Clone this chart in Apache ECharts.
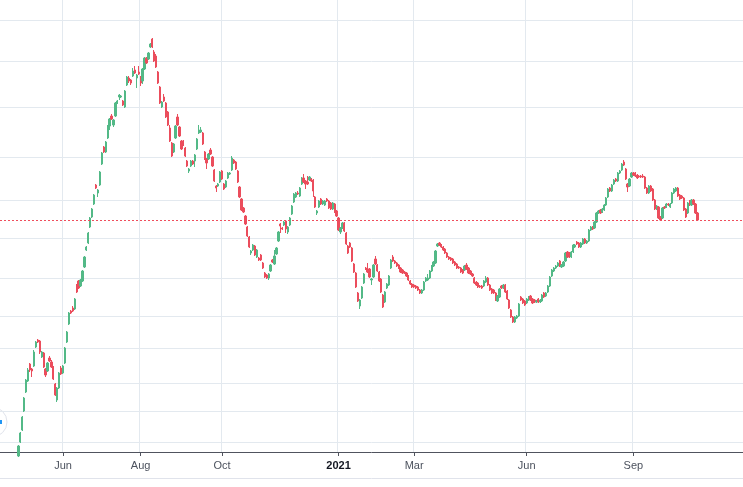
<!DOCTYPE html>
<html><head><meta charset="utf-8">
<script src="https://cdn.jsdelivr.net/npm/echarts@6/dist/echarts.min.js"></script>
<style>html,body{margin:0;padding:0;background:#fff}#c{width:743px;height:487px}</style>
</head><body><div id="c"></div>
<script>
// ---- data (arbitrary price units) ----
const barCount = 383;           // number of bar slots on the time scale
const firstBar = 9;             // slot of the first visible candle
const monthTicks = [[32,'Jun'],[72,'Aug'],[114,'Oct'],[174,'2021'],[213,'Mar'],[271,'Jun'],[326,'Sep']];
const priceGrid = [10,41,69,104,136,174,214,252,295,345,391,432];
const priceMin = 0, priceMax = 452;

// [open, close, low, high]
const rally2020 = [
[-4,6,-5,7],[10,19,9,20],[22,35,21,36],[41,54,40,55],[60,72,59,73],[71,82,70,84],[88,82,80,89],[83,81,75,84],
[86,100,85,102],[105,110,104,111],[112,110,109,113],[111,100,98,112],[95,100,94,101],[99,85,84,100],[83,77,75,84],
[81,89,80,90],[94,91,90,96],[90,85,84,92],[85,73,72,86],[68,57,56,69],[52,64,50,65],[64,79,63,80],[84,78,77,86],
[79,86,78,87],[89,104,88,105],[110,120,109,121],[128,139,127,140],[141,139,138,142],[144,141,140,146],[143,153,142,154],
[167,160,159,168],[171,164,163,172],[166,172,165,173],[171,181,170,182],[185,195,184,196],[202,205,201,206],
[209,219,208,220],[225,234,224,235],[235,243,234,244],[248,257,247,258],[267,264,263,268],[259,262,255,263]
];
const peak2020 = [
[267,280,266,281],[288,299,287,300],[305,300,299,306],[300,310,299,311],[314,326,313,327],[326,333,322,334],
[336,333,332,338],[327,332,325,333],[336,349,335,350],[349,351,348,352],[355,357,352,358],[355,356,354,357],
[351,347,346,352],[345,361,344,362],[367,375,366,376],[374,371,369,376],[372,369,367,373],[376,381,375,384],
[382,379,378,386],[374,377,364,378],[380,378,377,386],[375,369,366,376],[371,383,368,384],[383,394,382,395],
[394,389,388,395],[393,399,392,400],[405,408,404,409],[413,405,404,414],[400,391,390,402],[396,385,384,398],
[380,369,368,381],[365,349,348,366],[345,350,344,351],[355,351,350,358],[349,335,334,350],[340,327,326,341],
[324,311,310,327],[309,296,295,310],[300,308,299,309],[314,326,313,327],[335,327,326,338],[325,316,315,326],
[311,303,302,312],[311,307,306,312],[304,296,295,305],[291,286,285,292],[281,283,279,284],[286,291,285,292],
[291,288,287,292],[291,297,285,298],[303,313,302,314],[319,322,318,327],[320,322,319,325],[319,308,307,320],
[300,293,292,301],[293,289,283,294],[293,298,292,299],[302,298,297,304],[295,286,285,296],[282,271,270,283],
[266,264,260,267],[266,268,265,269],[270,280,269,281],[281,273,272,282],[268,263,262,269],[265,271,264,272],
[274,279,273,280],[278,279,277,280],[282,294,281,296],[292,289,288,293],[290,283,282,291],[281,270,269,282],
[265,255,254,266],[253,242,241,254],[244,240,239,245],[236,228,227,237],[225,216,215,226],[215,205,204,216]
];
const winter2021 = [
[199,201,197,202],[202,207,201,208],[206,197,196,207],[195,202,194,203],[194,192,191,195],[197,192,191,198],
[189,184,183,190],[179,175,174,180],[177,174,173,178],[174,178,172,179],[181,187,180,188],[192,190,189,193],
[188,196,187,202],[198,204,197,205],[211,220,210,221],[228,226,219,229],[224,223,222,225],[227,230,226,231],
[231,223,219,232],[220,225,218,226],[227,234,226,235],[238,246,237,247],[250,258,249,259],[255,259,254,260],
[259,258,257,261],[256,264,255,265],[268,274,267,275],[274,270,269,278],[271,268,263,272],[270,268,267,276],
[272,275,271,276],[273,271,270,274],[272,261,255,273],[255,245,244,256],[239,241,237,242],[245,251,244,252],
[253,248,247,254],[248,251,247,252],[247,251,246,252],[253,251,250,254],[251,244,243,252],[249,243,242,250],
[243,249,242,250],[248,240,239,249],[241,236,235,242],[234,222,221,235],[220,224,218,225],[224,229,223,230],
[229,221,220,230],[219,208,207,220],[206,199,198,207],[209,205,204,210],[204,191,190,205],[188,180,179,189],
[179,165,164,180],[159,151,150,160]
];
const spring2021 = [
[146,152,143,153],[154,165,153,166],[169,178,168,179],[184,183,182,185],[183,180,179,189],[183,175,174,184],
[172,173,167,174],[175,187,174,188],[193,188,187,196],[187,181,180,188],[180,171,170,181],[173,160,159,174],
[157,145,144,158],[150,160,149,161],[164,168,163,169],[167,176,166,177],[184,192,183,193],[195,191,190,197],
[191,189,188,192],[189,186,185,190],[187,184,183,188],[184,180,179,185],[182,179,178,183],[180,179,178,181],
[179,176,175,180],[176,172,171,177],[171,168,167,172],[168,165,164,169],[167,165,164,168],[166,164,163,167],
[165,162,161,166],[162,159,158,163],[159,162,158,163],[162,170,161,171],[171,174,170,175],[172,174,171,178],
[174,181,173,182],[181,186,180,187],[186,190,185,191],[189,201,188,202],[206,208,205,209],[209,207,206,210],
[207,205,204,208],[205,202,201,206],[203,199,198,204],[199,195,194,200],[195,193,192,196],[194,192,191,195],
[193,189,188,194],[190,187,186,191],[188,184,183,189],[185,184,183,186],[184,180,179,185],[182,179,178,183],
[182,186,181,187],[187,183,182,189],[184,179,178,185],[181,178,177,182],[178,176,175,179],[174,169,168,175],
[170,167,166,171],[169,165,164,170],[166,165,164,167],[166,164,163,167],[166,171,165,172],[170,174,169,176],
[174,167,166,175],[167,162,161,168],[163,159,158,164],[162,159,158,163],[159,152,151,160],[151,156,150,157],
[155,163,154,164],[166,164,163,167],[164,167,163,168],[167,160,159,168],[161,153,152,162],[152,144,143,153],
[142,135,134,143],[135,130,129,136],[130,135,129,136],[134,136,133,137],[136,148,135,149]
];
const summer2021 = [
[155,152,151,156],[153,149,148,154],[151,147,146,152],[149,153,148,154],[152,155,151,156],[156,152,151,157],
[153,149,148,154],[152,150,149,153],[150,151,149,152],[153,150,149,154],[150,152,149,153],[151,157,150,158],
[159,155,154,160],[156,159,155,160],[160,166,159,167],[166,175,165,176],[176,182,175,183],[181,184,180,185],
[184,186,183,187],[186,189,185,190],[191,186,185,192],[185,187,184,188],[186,190,185,191],[191,199,190,200],
[200,195,194,201],[199,195,194,200],[195,200,194,201],[200,207,199,208],[205,207,204,208],[210,208,207,211],
[209,205,204,210],[205,209,204,210],[208,213,207,214],[213,209,208,214],[209,211,208,212],[211,222,210,223],
[222,225,221,226],[225,223,222,226],[224,230,223,231],[230,239,229,240],[239,241,238,242],[242,239,238,243],
[240,243,239,244],[242,247,241,248],[247,254,246,255],[255,263,254,264],[264,261,260,265],[261,267,260,268],
[268,272,267,273],[273,271,270,274],[271,279,270,280],[279,281,278,282],[282,288,281,289],[290,287,286,292],
[283,273,272,284],[268,265,260,269],[266,273,265,274],[275,279,274,280],[279,277,276,280],[279,276,275,280],
[277,274,273,278],[276,275,274,277],[276,275,274,277],[276,275,274,278],[275,264,263,276],[264,259,258,265],
[259,266,258,267],[266,261,260,267],[263,252,251,264],[252,243,242,253],[243,246,242,247],[245,234,233,246],
[235,232,231,236],[234,244,233,245],[245,244,243,246],[245,248,244,249],[248,247,246,249],[245,248,244,249],
[249,259,248,260],[259,263,258,264],[261,264,260,265],[264,256,255,265],[257,253,252,258],[256,254,253,257],
[254,242,241,255],[243,235,234,244],[239,249,238,250],[251,247,246,252],[247,252,246,253],[252,248,247,253],
[248,239,238,249],[239,232,231,240]
];

// ---- build ----
const candles = [].concat(rally2020, peak2020, winter2021, spring2021, summer2021);
const categories = [];
for (let i = 0; i < barCount; i++) categories.push(String(i));
const seriesData = categories.map((c, i) => {
  const k = i - firstBar;
  return (k >= 0 && k < candles.length) ? candles[k] : '-';
});
const lastClose = candles[candles.length - 1][1];
const tickMap = {};
monthTicks.forEach(([i, l]) => { tickMap[i] = l; });
const isTick = (index) => tickMap[index] !== undefined;

const UP = '#53b987', DOWN = '#eb4d5c', GRID = '#e3e9ef';
const chart = echarts.init(document.getElementById('c'), null, {renderer: 'canvas'});
chart.setOption({
  animation: false,
  backgroundColor: '#ffffff',
  grid: {left: 0, right: 0, top: 0, bottom: 35},
  xAxis: {
    type: 'category',
    data: categories,
    boundaryGap: true,
    axisLine: {show: true, lineStyle: {color: '#50535e', width: 1}},
    axisTick: {show: true, alignWithLabel: true, length: 4, interval: isTick, lineStyle: {color: '#50535e'}},
    axisLabel: {
      interval: isTick, margin: 8, fontSize: 11, color: '#4c525e', fontFamily: 'Liberation Sans, Arial, sans-serif',
      formatter: (v) => {
        const l = tickMap[Number(v)];
        if (l === undefined) return '';
        return /^\d{4}$/.test(l) ? '{y|' + l + '}' : l;
      },
      rich: {y: {fontWeight: 'bold', color: '#131722', fontSize: 11, fontFamily: 'Liberation Sans, Arial, sans-serif'}}
    },
    splitLine: {show: true, interval: isTick, lineStyle: {color: GRID, width: 1}}
  },
  yAxis: {
    type: 'value', min: priceMin, max: priceMax, position: 'right',
    axisLine: {show: false},
    axisTick: {show: false, customValues: priceGrid},
    axisLabel: {show: false, customValues: priceGrid},
    splitLine: {show: true, lineStyle: {color: GRID, width: 1}}
  },
  series: [{
    type: 'candlestick',
    data: seriesData,
    barWidth: 1.75,
    clip: true,
    itemStyle: {color: UP, color0: DOWN, borderColor: UP, borderColor0: DOWN, borderWidth: 1},
    markLine: {
      silent: true, symbol: 'none', label: {show: false},
      lineStyle: {color: '#ef4e5c', type: [2, 2], width: 1},
      data: [{yAxis: lastClose}]
    }
  }],
  graphic: [
    {type: 'line', shape: {x1: 0, y1: 478.5, x2: 743, y2: 478.5}, style: {stroke: '#e0e3eb', lineWidth: 1}, silent: true},
    {type: 'circle', shape: {cx: -8, cy: 422, r: 15}, style: {fill: '#ffffff', stroke: '#e0e3eb', lineWidth: 1}, silent: true},
    {type: 'rect', shape: {x: 0, y: 420, width: 2, height: 4}, style: {fill: '#2196f3'}, silent: true}
  ]
});
</script></body></html>
